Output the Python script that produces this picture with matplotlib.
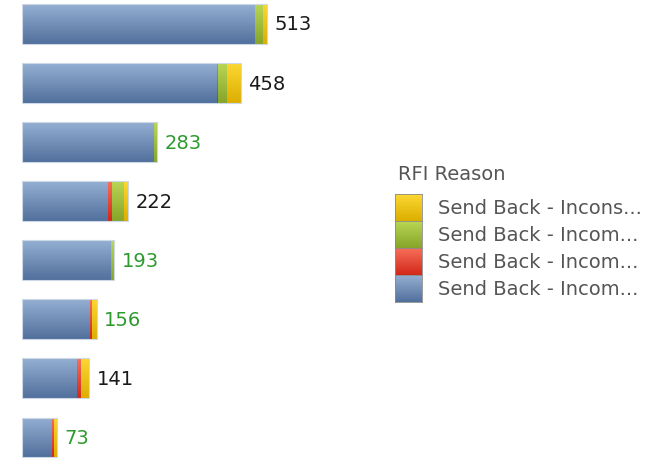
import numpy as np
import matplotlib.pyplot as plt
from matplotlib.colors import LinearSegmentedColormap

# stacked segments per bar, top to bottom
blue   = [488, 408, 276, 180, 187, 142, 116, 63]
red    = [0,   3,   0,   8,   0,   4,   7,   4]
green  = [17,  19,  7,   25,  6,   1,   0,   0]
yellow = [8,   28,  0,   9,   0,   9,   18,  6]
totals = [513, 458, 283, 222, 193, 156, 141, 73]
label_colors = ['#1a1a1a', '#1a1a1a', '#2e9a2e', '#1a1a1a',
                '#2e9a2e', '#2e9a2e', '#1a1a1a', '#2e9a2e']
legend_labels = ['Send Back - Incons...', 'Send Back - Incom...',
                 'Send Back - Incom...', 'Send Back - Incom...']
legend_names = ['yellow', 'green', 'red', 'blue']

# (top colour, bottom colour) for the gradient fill
shades = {
    'blue':   ('#94afd2', '#52709d'),
    'red':    ('#f7705a', '#d2281a'),
    'green':  ('#b9d653', '#86a52a'),
    'yellow': ('#fcd832', '#dcae00'),
}
grad = np.linspace(0, 1, 64).reshape(-1, 1)

def cmap_for(name):
    return LinearSegmentedColormap.from_list(name, list(shades[name]))

W, H = 658, 460
fig = plt.figure(figsize=(W / 100, H / 100), dpi=100)
ax = fig.add_axes([22 / W, 0, 0.6, 1])
y = np.arange(len(totals))

def shade_bars(bars, name):
    for p in bars:
        if p.get_width() <= 0:
            continue
        x0, y0 = p.get_x(), p.get_y()
        w, h = p.get_width(), p.get_height()
        im = ax.imshow(grad, cmap=cmap_for(name), aspect='auto', origin='upper',
                       extent=[x0, x0 + w, y0 + h, y0], zorder=2,
                       interpolation='bilinear')
        im.set_clip_path(p)

left = np.zeros(len(totals))
for vals, name in [(blue, 'blue'), (red, 'red'), (green, 'green'), (yellow, 'yellow')]:
    bars = ax.barh(y, vals, left=left, height=0.677,
                   color=shades[name][1], edgecolor='none', zorder=1)
    shade_bars(bars, name)
    left += np.array(vals)

# faint outline around each whole bar
ax.barh(y, totals, height=0.677, fill=False, edgecolor='#cdd8e6',
        linewidth=0.8, zorder=3)

for yi, t, c in zip(y, totals, label_colors):
    ax.annotate(str(t), (t, yi), xytext=(5.5, 0), textcoords='offset points',
                va='center', ha='left', fontsize=14, color=c)

ax.set_xlim(0, 826.6)
ax.set_ylim(7.364, -0.423)
ax.axis('off')

# legend, drawn by hand so the squares can carry the gradient
fig.text(398 / W, 1 - 175 / H, 'RFI Reason', va='center', ha='left',
         fontsize=14, color='#555555')
row_top, row_h = 195, 27
for i, (name, lab) in enumerate(zip(legend_names, legend_labels)):
    top = row_top + i * row_h
    sq = fig.add_axes([395 / W, 1 - (top + row_h) / H, 27 / W, row_h / H])
    sq.imshow(grad, cmap=cmap_for(name), aspect='auto', interpolation='bilinear')
    sq.set_xticks([])
    sq.set_yticks([])
    for s in sq.spines.values():
        s.set_color('#8a8a8a')
        s.set_linewidth(0.6)
    fig.text(438 / W, 1 - (top + row_h / 2) / H, lab, va='center', ha='left',
             fontsize=14, color='#555555')

fig.savefig('out.png', dpi=100)
